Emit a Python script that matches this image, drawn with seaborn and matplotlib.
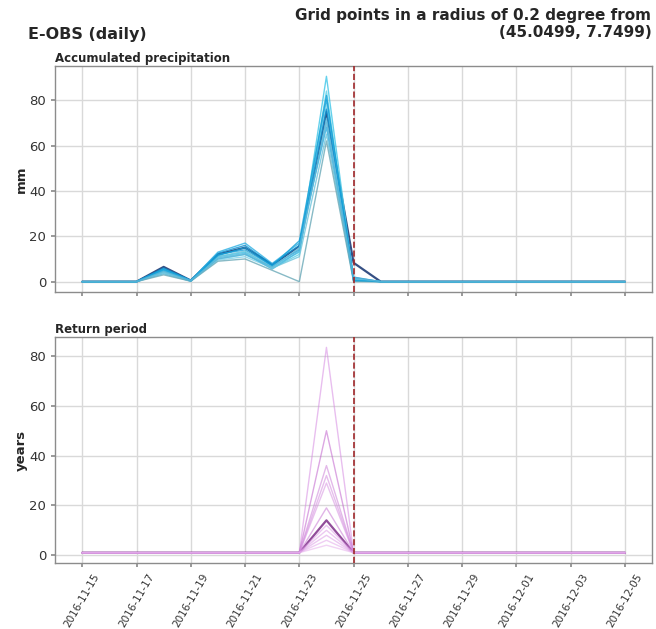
import numpy as np
import pandas as pd
import seaborn as sns
import matplotlib.pyplot as plt
import matplotlib.dates as mdates

dates = pd.date_range("2016-11-15", "2016-12-05", freq="D")
event_date = pd.Timestamp("2016-11-25")

# precipitation (mm), days 2016-11-15 .. 2016-11-25, zero afterwards
precip_head = {
    "p01": [0, 0, 0, 5.5, 0.5, 11, 13, 6.5, 13, 90.5, 1.0],
    "p02": [0, 0, 0, 4.5, 0.3, 10, 12, 6.0, 12, 84, 0.5],
    "p03": [0, 0, 0, 5.0, 0.4, 12, 14, 7.0, 14, 80, 1.5],
    "p04": [0, 0, 0, 4.0, 0.2, 9.5, 11, 6.0, 15, 78, 0.3],
    "p05": [0, 0, 0, 6.0, 0.6, 12.5, 16, 7.5, 16, 76, 2.0],
    "p06": [0, 0, 0, 3.5, 0.2, 10.5, 12.5, 5.5, 13.5, 72, 0.8],
    "p07": [0, 0, 0, 5.0, 0.5, 13, 17, 8.0, 17, 68, 0.2],
    "p08": [0, 0, 0, 4.0, 0.3, 11, 13.5, 6.0, 11, 65, 1.2],
    "p09": [0, 0, 0, 3.0, 0.2, 9, 10, 5.0, 0, 62, 0.0],
    "p10": [0, 0, 0, 5.5, 0.4, 11.5, 15, 7.0, 18, 82, 0.6],
    "p11": [0, 0, 0, 4.5, 0.5, 10, 12, 6.5, 14.5, 70, 1.8],
    "p12": [0, 0, 0, 6.5, 0.5, 12, 15, 7.5, 15.5, 75, 8.3],
}
# return period (years) on 2016-11-24, baseline 1 elsewhere
return_peak = {
    "p01": 83.5, "p02": 50, "p03": 36, "p04": 32, "p05": 29, "p06": 19,
    "p07": 12, "p08": 10, "p09": 6, "p10": 8, "p11": 4, "p12": 14,
}
rp_base = 1.0

blue_colors = ["#3fc6e8", "#5dd0e6", "#1aa3dc", "#7ed3ea", "#0a8fd0", "#4fb8e0",
               "#2bb0e4", "#6cc4dc", "#6aa9b8", "#12a0d8", "#5ab5d8", "#12316e"]
violet_colors = ["#d68ae2", "#c060cc", "#cc80d8", "#d28ade", "#d690e0", "#c878d4",
                 "#da98e4", "#de9ee6", "#e2a6ea", "#dc9ce6", "#e6b0ec", "#7e2e88"]

points = list(precip_head.keys())
rows_p, rows_r = [], []
for pt in points:
    vals = precip_head[pt] + [0] * (len(dates) - len(precip_head[pt]))
    for d, v in zip(dates, vals):
        rows_p.append({"date": d, "point": pt, "value": v})
    for d in dates:
        v = return_peak[pt] if d == pd.Timestamp("2016-11-24") else rp_base
        rows_r.append({"date": d, "point": pt, "value": v})
df_p = pd.DataFrame(rows_p)
df_r = pd.DataFrame(rows_r)

sns.set_theme(style="whitegrid")
plt.rcParams["font.family"] = ["DejaVu Sans"]
plt.rcParams["axes.edgecolor"] = "0.55"
plt.rcParams["grid.color"] = "0.85"

fig, (ax1, ax2) = plt.subplots(2, 1, figsize=(6.56, 6.29), dpi=100, sharex=True)
fig.subplots_adjust(left=0.084, right=0.994, top=0.895, bottom=0.105, hspace=0.2)

# the highlighted (nearest) point sits under the others
for ax, df, cols, alpha in [(ax1, df_p, blue_colors, 0.8), (ax2, df_r, violet_colors, 0.55)]:
    for pt, c in zip(points, cols):
        sub = df[df["point"] == pt]
        dark = pt == "p12"
        sns.lineplot(data=sub, x="date", y="value", ax=ax, color=c,
                     lw=1.6 if dark else 1.0, alpha=0.85 if dark else alpha,
                     zorder=2.5 if dark else 3, legend=False)
    ax.axvline(event_date, color="#a0282a", ls="--", lw=1.2, zorder=5)
    ax.set_xlabel("")
    ax.tick_params(axis="both", which="both", length=3, color="0.55",
                   labelsize=9.5, labelcolor="0.2", left=True, bottom=True)
    for s in ax.spines.values():
        s.set_linewidth(1.0)

ax1.set_ylabel("mm", fontsize=9.5, fontweight="bold", labelpad=1)
ax2.set_ylabel("years", fontsize=9.5, fontweight="bold", labelpad=1)
ax1.set_title("Accumulated precipitation", loc="left", fontsize=8.5, fontweight="bold", pad=3)
ax2.set_title("Return period", loc="left", fontsize=8.5, fontweight="bold", pad=3)
ax1.set_yticks([0, 20, 40, 60, 80])
ax2.set_yticks([0, 20, 40, 60, 80])

ax2.set_xticks(dates[::2])
ax2.xaxis.set_major_formatter(mdates.DateFormatter("%Y-%m-%d"))
for lab in ax2.get_xticklabels():
    lab.set_rotation(60)
    lab.set_fontsize(7.5)

fig.text(0.043, 0.945, "E-OBS (daily)", fontsize=11.5, fontweight="bold", ha="left", va="center")
fig.text(0.993, 0.962, "Grid points in a radius of 0.2 degree from\n(45.0499, 7.7499)",
         fontsize=11, fontweight="bold", ha="right", va="center", linespacing=1.1)

fig.savefig("out.png", dpi=100)
